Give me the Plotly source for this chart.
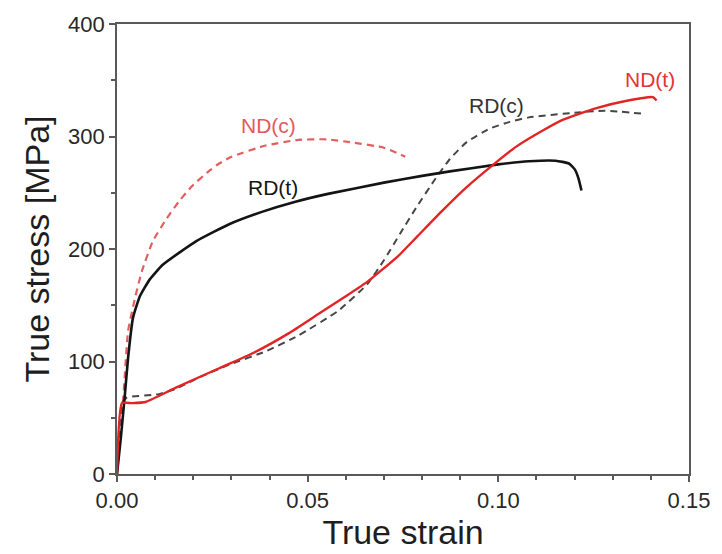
import plotly.graph_objects as go

# ---- data ----
rd_t_strain = [0, 0.001, 0.002, 0.0029, 0.0042, 0.006, 0.0086, 0.012, 0.0208, 0.0294,
               0.038, 0.0468, 0.0553, 0.070, 0.080, 0.0873, 0.0995, 0.108,
               0.115, 0.1185, 0.1200, 0.121, 0.1218]
rd_t_stress = [0, 32, 68, 103, 139, 158, 173, 186, 207, 222,
               233, 242, 249, 259, 265, 269, 275, 278,
               278.5, 276, 271, 263, 252]

nd_c_strain = [0, 0.0015, 0.0029, 0.0047, 0.0065, 0.0094, 0.013, 0.0164, 0.0197, 0.024,
               0.0268, 0.030, 0.039, 0.0475, 0.055, 0.061, 0.070, 0.0756]
nd_c_stress = [0, 60, 127, 156, 180, 207, 227, 243, 256, 269,
               276, 282, 292, 297, 297.5, 295, 290, 282]

nd_t_strain = [0, 0.0013, 0.004, 0.0075, 0.0156, 0.0268, 0.036, 0.045, 0.0527, 0.060,
               0.0657, 0.0735, 0.0787, 0.085, 0.0917, 0.0987, 0.1047, 0.112, 0.117, 0.1255,
               0.134, 0.1405, 0.1415]
nd_t_stress = [0, 63, 63, 64, 77, 94, 108, 125, 142, 158,
               171, 193, 211, 233, 255, 275, 291, 306, 315, 325,
               332, 335, 332]

rd_c_strain = [0, 0.0013, 0.0026, 0.011, 0.0156, 0.0216, 0.030, 0.039, 0.0475, 0.058,
               0.0657, 0.070, 0.0743, 0.0787, 0.083, 0.0873, 0.0917, 0.0977, 0.103, 0.108,
               0.1195, 0.128, 0.1385]
rd_c_stress = [0, 63, 68, 71, 76, 86, 98, 109, 123, 145,
               169, 190, 214, 238, 260, 280, 295, 307, 313, 317,
               321, 323, 320]

labels = ["ND(c)", "RD(t)", "RD(c)", "ND(t)"]
label_x = [0.0397, 0.041, 0.0995, 0.1397]
label_y = [310, 255, 328, 351]

x_ticks = [0.0, 0.05, 0.10, 0.15]
x_ticktext = ["0.00", "0.05", "0.10", "0.15"]
y_ticks = [0, 100, 200, 300, 400]

RED = "rgb(226,36,36)"
RED_D = "rgb(226,95,95)"
BLACK = "rgb(20,20,20)"
GREY_D = "rgb(70,70,70)"
label_colors = ["rgb(226,90,90)", BLACK, "rgb(50,50,50)", "rgb(230,50,50)"]

SM = 0.45
fig = go.Figure()
fig.add_trace(go.Scatter(x=nd_c_strain, y=nd_c_stress, mode="lines", line=dict(color=RED_D, width=2.2, dash="7px,5px", shape="spline", smoothing=SM)))
fig.add_trace(go.Scatter(x=rd_c_strain, y=rd_c_stress, mode="lines", line=dict(color=GREY_D, width=2.0, dash="7px,5px", shape="spline", smoothing=SM)))
fig.add_trace(go.Scatter(x=rd_t_strain, y=rd_t_stress, mode="lines", line=dict(color=BLACK, width=2.6, shape="spline", smoothing=SM)))
fig.add_trace(go.Scatter(x=nd_t_strain, y=nd_t_stress, mode="lines", line=dict(color=RED, width=2.4, shape="spline", smoothing=SM)))

for t, x, y, c in zip(labels, label_x, label_y, label_colors):
    fig.add_annotation(x=x, y=y, text=t, showarrow=False, font=dict(size=21, color=c, family="Arial, Liberation Sans"))

axis_common = dict(showline=True, linecolor="rgb(90,90,90)", linewidth=1.8, mirror=True,
                   showgrid=False, zeroline=False, ticks="outside", ticklen=6, tickwidth=1.5,
                   tickcolor="rgb(90,90,90)", tickfont=dict(size=22, color="rgb(40,40,40)"))

fig.update_xaxes(range=[0, 0.15], tickvals=x_ticks, ticktext=x_ticktext,
                 title=dict(text="True strain", font=dict(size=34, color="rgb(30,30,30)"), standoff=2),
                 minor=dict(ticks="outside", dtick=0.01, ticklen=4, tickcolor="rgb(90,90,90)"),
                 **axis_common)
fig.update_yaxes(range=[0, 400], tickvals=y_ticks,
                 title=dict(text="True stress [MPa]", font=dict(size=34, color="rgb(30,30,30)"), standoff=8),
                 minor=dict(ticks="outside", dtick=50, ticklen=4, tickcolor="rgb(90,90,90)"),
                 **axis_common)

fig.update_layout(width=722, height=554, showlegend=False,
                  margin=dict(l=117, r=28, t=21, b=80),
                  paper_bgcolor="white", plot_bgcolor="white",
                  font=dict(family="Arial, Liberation Sans"))

fig.write_html("out.html")
